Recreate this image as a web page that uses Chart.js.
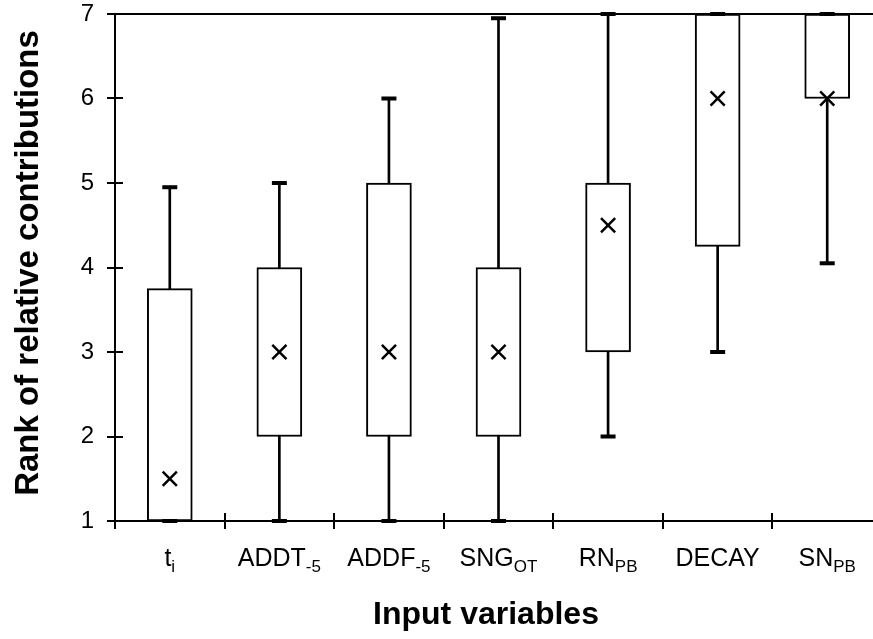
<!DOCTYPE html>
<html>
<head>
<meta charset="utf-8">
<title>Rank of relative contributions</title>
<script src="https://cdn.jsdelivr.net/npm/chart.js@4/dist/chart.umd.min.js"></script>
<style>
  html, body { margin: 0; padding: 0; background: #ffffff; overflow: hidden; }
  #wrap { width: 882px; height: 639px; }
</style>
</head>
<body>
<div id="wrap"><canvas id="chart" width="882" height="639"></canvas></div>
<script>
// Input variables (base name + subscript)
const labelBase = ['t', 'ADDT', 'ADDF', 'SNG', 'RN', 'DECAY', 'SN'];
const labelSub  = ['i', '-5', '-5', 'OT', 'PB', '', 'PB'];

// Rank statistics per variable
const whiskerLow  = [1, 1, 1, 1, 2, 3, 4.05];
const boxLow      = [1, 2, 2, 2, 3, 4.25, 6];
const boxHigh     = [3.75, 4, 5, 4, 5, 7, 7];
const whiskerHigh = [4.95, 5, 6, 6.95, 7, 7, 7];
const centreMark  = [1.5, 3, 3, 3, 4.5, 6, 6];

// Y axis ticks
const yTicks = [1, 2, 3, 4, 5, 6, 7];

const FONT = '"Liberation Sans", Arial, Helvetica, sans-serif';

const categories = labelBase.map((b, i) => b + labelSub[i]);
const whiskerSpan = whiskerLow.map((lo, i) => [lo, whiskerHigh[i]]);
const boxSpan = boxLow.map((lo, i) => [lo, boxHigh[i]]);

// Crossing tick marks, subscripted category labels and axis titles
const axisDecor = {
  id: 'axisDecor',
  afterDraw(chart) {
    const { ctx, chartArea, scales } = chart;
    const x = scales.x, y = scales.y;
    ctx.save();
    ctx.strokeStyle = '#000';
    ctx.lineWidth = 2;
    ctx.lineCap = 'butt';
    // y ticks crossing the axis
    yTicks.forEach(v => {
      const py = Math.round(y.getPixelForValue(v));
      ctx.beginPath();
      ctx.moveTo(chartArea.left - 8, py);
      ctx.lineTo(chartArea.left + 8, py);
      ctx.stroke();
    });
    // x ticks at category boundaries
    const step = (chartArea.right - chartArea.left) / categories.length;
    for (let k = 0; k <= categories.length; k++) {
      const px = Math.round(chartArea.left + k * step);
      ctx.beginPath();
      ctx.moveTo(px, chartArea.bottom - 8);
      ctx.lineTo(px, chartArea.bottom + 8);
      ctx.stroke();
    }
    // category labels with subscripts
    ctx.fillStyle = '#000';
    ctx.textBaseline = 'alphabetic';
    ctx.textAlign = 'left';
    const baseFont = '25px ' + FONT;
    const subFont = '17px ' + FONT;
    categories.forEach((c, i) => {
      ctx.font = baseFont;
      const wb = ctx.measureText(labelBase[i]).width;
      ctx.font = subFont;
      const ws = labelSub[i] ? ctx.measureText(labelSub[i]).width : 0;
      const cx = x.getPixelForValue(i);
      const sx = cx - (wb + ws) / 2;
      const by = chartArea.bottom + 45;
      ctx.font = baseFont;
      ctx.fillText(labelBase[i], sx, by);
      if (labelSub[i]) {
        ctx.font = subFont;
        ctx.fillText(labelSub[i], sx + wb, by + 6);
      }
    });
    // axis titles
    ctx.textAlign = 'center';
    ctx.font = 'bold 32px ' + FONT;
    ctx.fillText('Input variables', 486, 624);
    ctx.font = 'bold 33px ' + FONT;
    ctx.translate(38, 263);
    ctx.rotate(-Math.PI / 2);
    ctx.fillText('Rank of relative contributions', 0, 0);
    ctx.restore();
  }
};

new Chart(document.getElementById('chart'), {
  data: {
    labels: categories,
    datasets: [
      {
        type: 'bar',
        data: whiskerSpan,
        backgroundColor: '#000',
        borderWidth: 0,
        barThickness: 2,
        grouped: false,
        order: 4,
        clip: false
      },
      {
        type: 'bar',
        data: boxSpan,
        backgroundColor: '#ffffff',
        borderColor: '#000',
        borderWidth: 2,
        borderSkipped: false,
        barThickness: 45,
        grouped: false,
        order: 3,
        clip: false
      },
      {
        type: 'line',
        data: whiskerHigh,
        showLine: false,
        pointStyle: 'line',
        pointRadius: 7.5,
        pointBorderWidth: 4,
        pointBorderColor: '#000',
        order: 2,
        clip: false
      },
      {
        type: 'line',
        data: whiskerLow,
        showLine: false,
        pointStyle: 'line',
        pointRadius: 7.5,
        pointBorderWidth: 4,
        pointBorderColor: '#000',
        order: 2,
        clip: false
      },
      {
        type: 'line',
        data: centreMark,
        showLine: false,
        pointStyle: 'crossRot',
        pointRadius: 10,
        pointBorderWidth: 2.5,
        pointBorderColor: '#000',
        order: 1,
        clip: false
      }
    ]
  },
  options: {
    responsive: false,
    animation: false,
    events: [],
    layout: { autoPadding: false, padding: { top: 14, left: 0, right: 0, bottom: 0 } },
    plugins: { legend: { display: false }, tooltip: { enabled: false } },
    scales: {
      x: {
        type: 'category',
        offset: true,
        grid: { display: false, offset: true },
        border: { display: true, color: '#000', width: 2 },
        ticks: { display: false },
        afterFit(scale) { scale.height = 118; }
      },
      y: {
        min: 1,
        max: 7,
        afterBuildTicks(scale) { scale.ticks = yTicks.map(v => ({ value: v })); },
        grid: {
          drawTicks: true,
          tickLength: 20,
          tickColor: 'rgba(0,0,0,0)',
          color: c => (c.tick && c.tick.value === 7 ? '#000' : 'rgba(0,0,0,0)'),
          lineWidth: 2
        },
        border: { display: true, color: '#000', width: 2 },
        ticks: {
          padding: 1,
          color: '#000',
          font: { family: FONT, size: 24, lineHeight: 1 }
        },
        afterFit(scale) { scale.width = 115; }
      }
    }
  },
  plugins: [axisDecor]
});
</script>
</body>
</html>
